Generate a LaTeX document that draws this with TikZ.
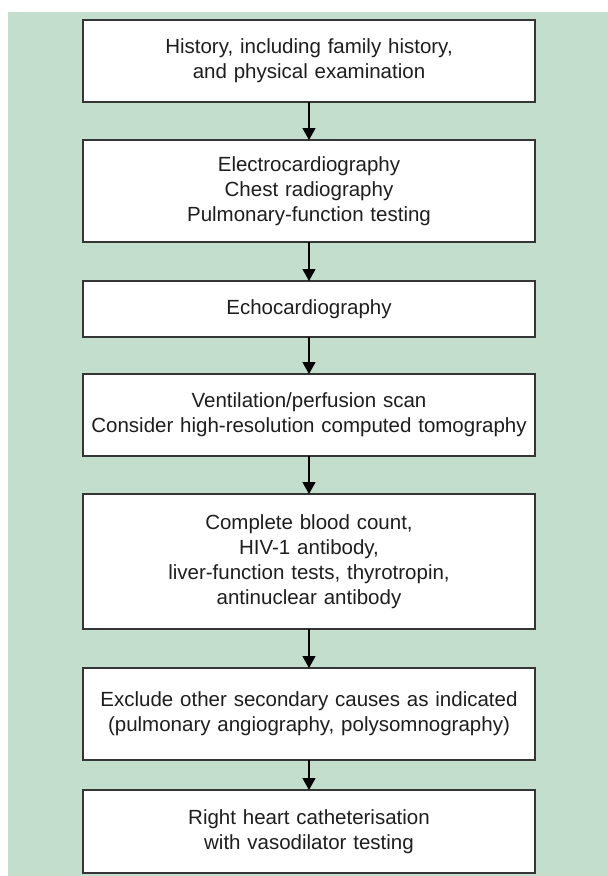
\documentclass[tikz,border=0pt]{standalone}
\usepackage{fontspec}
\setmainfont{Liberation Sans}
\usetikzlibrary{arrows.meta,positioning}

\definecolor{mint}{RGB}{195,222,205}
\definecolor{ink}{RGB}{30,30,30}

\begin{document}
\begin{tikzpicture}[x=1pt, y=-1pt, node distance=38pt,
    box/.style={rectangle, draw=ink!90, line width=1.3pt, fill=white, text=ink,
        text width=444pt, inner xsep=4pt, inner ysep=0pt, outer sep=0pt, align=center,
        minimum width=452pt, font=\fontsize{20.5}{25}\selectfont},
    arrow/.style={-{Triangle[width=13pt,length=12pt]}, line width=1.2pt, black}]

    \useasboundingbox (0,0) rectangle (608,876);
    \fill[mint] (8,12) rectangle (608,876);

    \node[box, minimum height=82pt] (history) at (309,61) {History, including family history,\\ and physical examination};
    \node[box, minimum height=102pt, below=of history] (ecg) {Electrocardiography\\ Chest radiography\\ Pulmonary-function testing};
    \node[box, minimum height=56pt, below=39pt of ecg] (echo) {Echocardiography};
    \node[box, minimum height=82pt, below=37pt of echo] (scan) {Ventilation/perfusion scan\\ Consider high-resolution computed tomography};
    \node[box, minimum height=135pt, below=of scan] (blood) {Complete blood count,\\ HIV-1 antibody,\\ liver-function tests, thyrotropin,\\ antinuclear antibody};
    \node[box, minimum height=92pt, below=39pt of blood] (exclude) {Exclude other secondary causes as indicated\\ (pulmonary angiography, polysomnography)};
    \node[box, minimum height=83pt, below=30pt of exclude] (cath) {Right heart catheterisation\\ with vasodilator testing};

    \draw[arrow] (history) -- (ecg);
    \draw[arrow] (ecg) -- (echo);
    \draw[arrow] (echo) -- (scan);
    \draw[arrow] (scan) -- (blood);
    \draw[arrow] (blood) -- (exclude);
    \draw[arrow] (exclude) -- (cath);

\end{tikzpicture}
\end{document}
